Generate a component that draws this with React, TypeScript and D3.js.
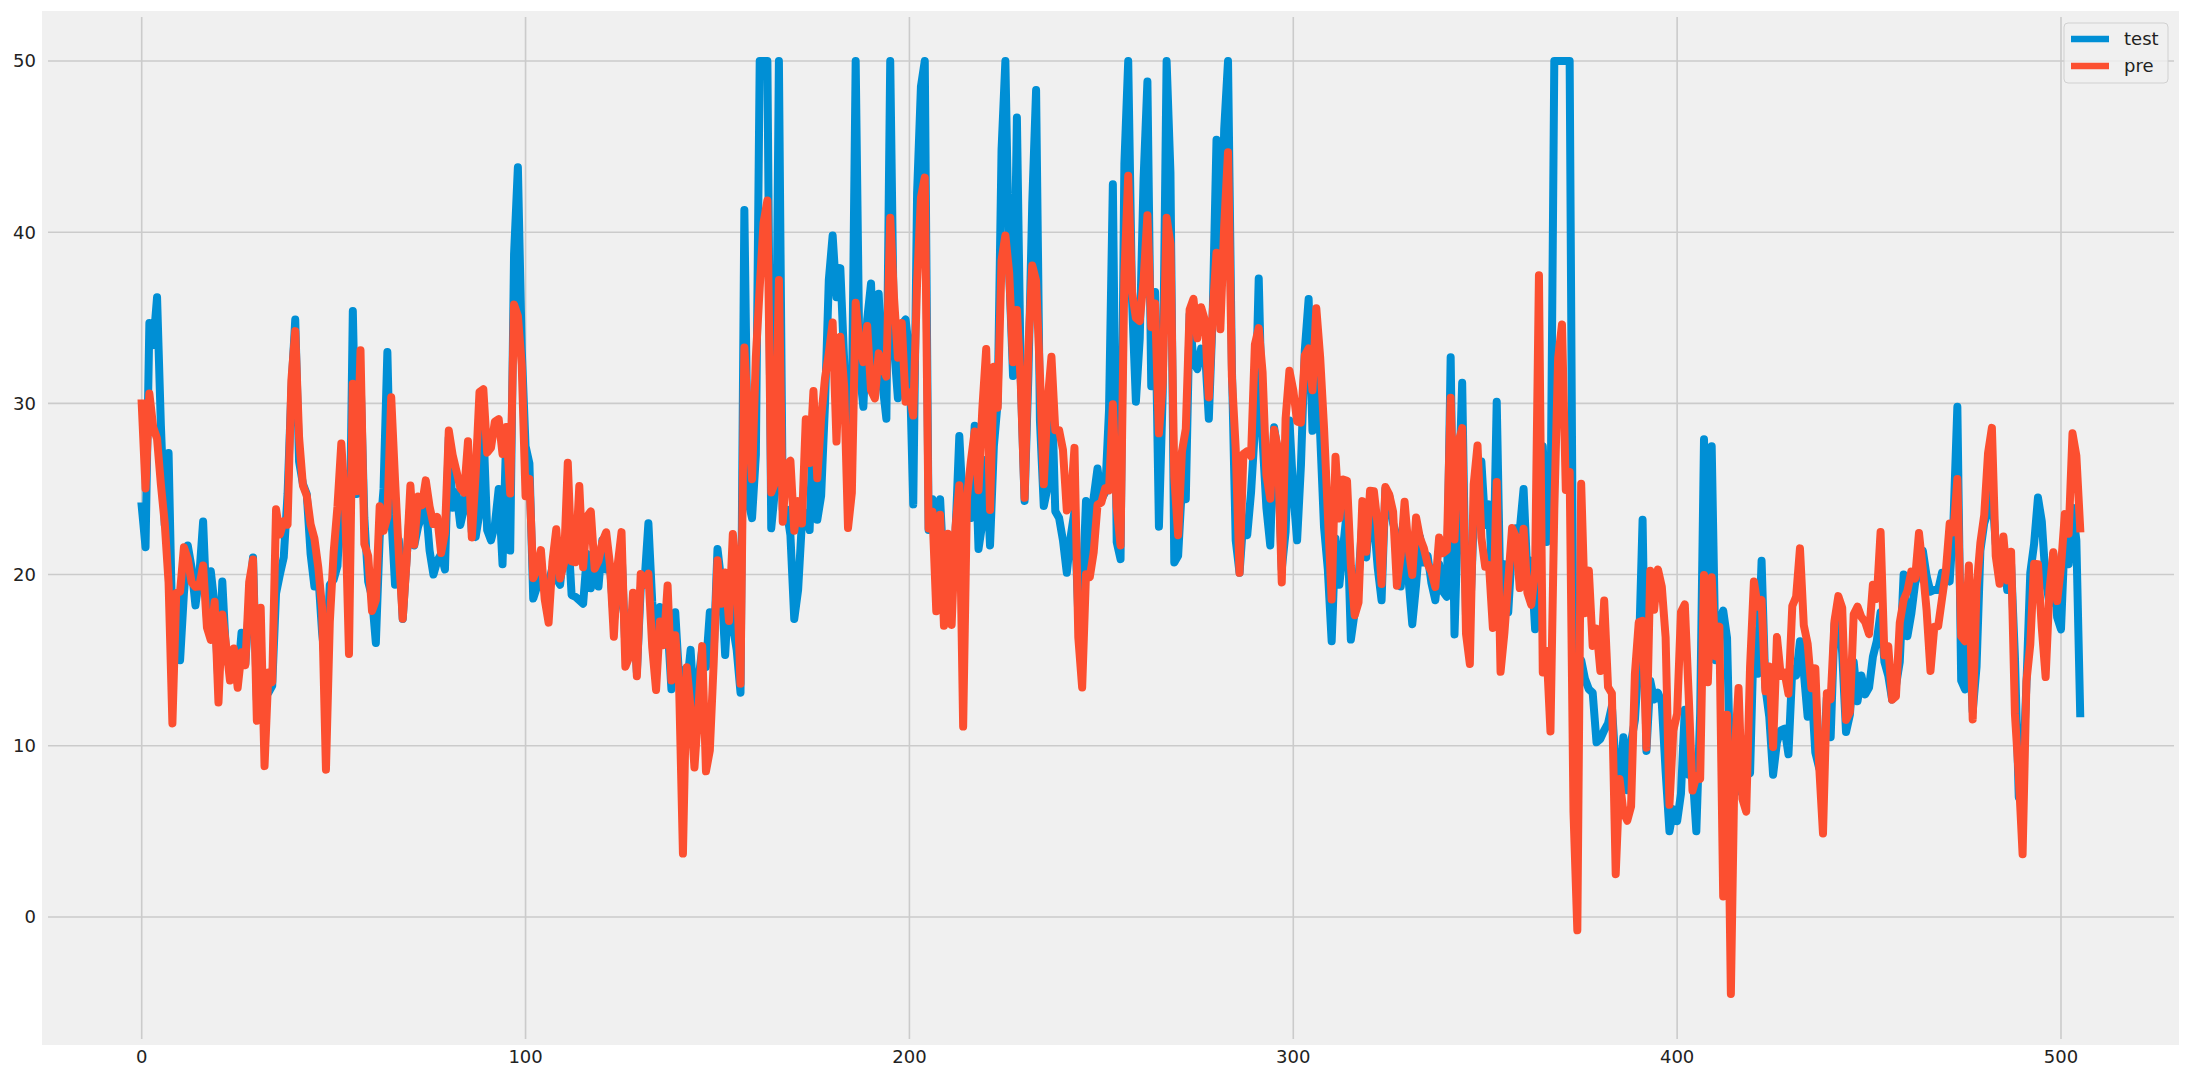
import React from "react";
import * as d3 from "d3";

// Observed house prices (test)
const testValues: number[] = [
  24.0, 21.6, 34.7, 33.4, 36.2, 28.7, 22.9, 27.1, 16.5, 18.9,
  15.0, 18.9, 21.7, 20.4, 18.2, 19.9, 23.1, 17.5, 20.2, 18.2,
  13.6, 19.6, 15.2, 14.5, 15.6, 13.9, 16.6, 14.8, 18.4, 21.0,
  12.7, 14.5, 13.2, 13.1, 13.5, 18.9, 20.0, 21.0, 24.7, 30.8,
  34.9, 26.6, 25.3, 24.7, 21.2, 19.3, 20.0, 16.6, 14.4, 19.4,
  19.7, 20.5, 25.0, 23.4, 18.9, 35.4, 24.7, 31.6, 23.3, 19.6,
  18.7, 16.0, 22.2, 25.0, 33.0, 23.5, 19.4, 22.0, 17.4, 20.9,
  24.2, 21.7, 22.8, 23.4, 24.1, 21.4, 20.0, 20.8, 21.2, 20.3,
  28.0, 23.9, 24.8, 22.9, 23.9, 26.6, 22.5, 22.2, 23.6, 28.7,
  22.6, 22.0, 22.9, 25.0, 20.6, 28.4, 21.4, 38.7, 43.8, 33.2,
  27.5, 26.5, 18.6, 19.3, 20.1, 19.5, 19.5, 20.4, 19.8, 19.4,
  21.7, 22.8, 18.8, 18.7, 18.5, 18.3, 21.2, 19.2, 20.4, 19.3,
  22.0, 20.3, 20.5, 17.3, 18.8, 21.4, 15.7, 16.2, 18.0, 14.3,
  19.2, 19.6, 23.0, 18.4, 15.6, 18.1, 17.4, 17.1, 13.3, 17.8,
  14.0, 14.4, 13.4, 15.6, 11.8, 13.8, 15.6, 14.6, 17.8, 15.4,
  21.5, 19.6, 15.3, 19.4, 17.0, 15.6, 13.1, 41.3, 24.3, 23.3,
  27.0, 50.0, 50.0, 50.0, 22.7, 25.0, 50.0, 23.8, 23.8, 22.3,
  17.4, 19.1, 23.1, 23.6, 22.6, 29.4, 23.2, 24.6, 29.9, 37.2,
  39.8, 36.2, 37.9, 32.5, 26.4, 29.6, 50.0, 32.0, 29.8, 34.9,
  37.0, 30.5, 36.4, 31.1, 29.1, 50.0, 33.3, 30.3, 34.6, 34.9,
  32.9, 24.1, 42.3, 48.5, 50.0, 22.6, 24.4, 22.5, 24.4, 20.0,
  21.7, 19.3, 22.4, 28.1, 23.7, 25.0, 23.3, 28.7, 21.5, 23.0,
  26.7, 21.7, 27.5, 30.1, 44.8, 50.0, 37.6, 31.6, 46.7, 31.5,
  24.3, 31.7, 41.7, 48.3, 29.0, 24.0, 25.1, 31.5, 23.7, 23.3,
  22.0, 20.1, 22.2, 23.7, 17.6, 18.5, 24.3, 20.5, 24.5, 26.2,
  24.4, 24.8, 29.6, 42.8, 21.9, 20.9, 44.0, 50.0, 36.0, 30.1,
  33.8, 43.1, 48.8, 31.0, 36.5, 22.8, 30.7, 50.0, 43.5, 20.7,
  21.1, 25.2, 24.4, 35.2, 32.4, 32.0, 33.2, 33.1, 29.1, 35.1,
  45.4, 35.4, 46.0, 50.0, 32.2, 22.0, 20.1, 23.2, 22.3, 24.8,
  28.5, 37.3, 27.9, 23.9, 21.7, 28.6, 27.1, 20.3, 22.5, 29.0,
  24.8, 22.0, 26.4, 33.1, 36.1, 28.4, 33.4, 28.2, 22.8, 20.3,
  16.1, 22.1, 19.4, 21.6, 23.8, 16.2, 17.8, 19.8, 23.1, 21.0,
  23.8, 23.1, 20.4, 18.5, 25.0, 24.6, 23.0, 22.2, 19.3, 22.6,
  19.8, 17.1, 19.4, 22.2, 20.7, 21.1, 19.5, 18.5, 20.6, 19.0,
  18.7, 32.7, 16.5, 23.9, 31.2, 17.5, 17.2, 23.1, 24.5, 26.6,
  22.9, 24.1, 18.6, 30.1, 18.2, 20.6, 17.8, 21.7, 22.7, 22.6,
  25.0, 19.9, 20.8, 16.8, 21.9, 27.5, 21.9, 23.1, 50.0, 50.0,
  50.0, 50.0, 50.0, 13.8, 13.8, 15.0, 13.9, 13.3, 13.1, 10.2,
  10.4, 10.9, 11.3, 12.3, 8.8, 7.2, 10.5, 7.4, 10.2, 11.5,
  15.1, 23.2, 9.7, 13.8, 12.7, 13.1, 12.5, 8.5, 5.0, 6.3,
  5.6, 7.2, 12.1, 8.3, 8.5, 5.0, 11.9, 27.9, 17.2, 27.5,
  15.0, 17.2, 17.9, 16.3, 7.0, 7.2, 7.5, 10.4, 8.8, 8.4,
  16.7, 14.2, 20.8, 13.4, 11.7, 8.3, 10.2, 10.9, 11.0, 9.5,
  14.5, 14.1, 16.1, 14.3, 11.7, 13.4, 9.6, 8.7, 8.4, 12.8,
  10.5, 17.1, 18.4, 15.4, 10.8, 11.8, 14.9, 12.6, 14.1, 13.0,
  13.4, 15.2, 16.1, 17.8, 14.9, 14.1, 12.7, 13.5, 14.9, 20.0,
  16.4, 17.7, 19.5, 20.2, 21.4, 19.9, 19.0, 19.1, 19.1, 20.1,
  19.9, 19.6, 23.2, 29.8, 13.8, 13.3, 16.7, 12.0, 14.6, 21.4,
  23.0, 23.7, 25.0, 21.8, 20.6, 21.2, 19.1, 20.6, 15.2, 7.0,
  8.1, 13.6, 20.1, 21.8, 24.5, 23.1, 19.7, 18.3, 21.2, 17.5,
  16.8, 22.4, 20.6, 23.9, 22.0, 11.9,
];

// Predicted prices (pre)
const preValues: number[] = [
  30.00, 25.03, 30.57, 28.61, 27.94, 25.26, 23.00, 19.54, 11.30, 18.92,
  19.00, 21.59, 20.91, 19.55, 19.28, 19.30, 20.53, 16.91, 16.18, 18.41,
  12.52, 17.67, 15.83, 13.81, 15.68, 13.39, 15.46, 14.71, 19.55, 20.88,
  11.46, 18.06, 8.81, 14.28, 13.71, 23.81, 22.34, 23.11, 22.92, 31.36,
  34.22, 28.02, 25.20, 24.61, 22.94, 22.10, 20.42, 18.04, 8.60, 17.21,
  21.28, 23.97, 27.66, 24.05, 15.36, 31.15, 24.86, 33.11, 21.78, 21.08,
  17.87, 18.51, 23.99, 22.55, 23.37, 30.36, 25.53, 21.11, 17.42, 20.78,
  25.20, 21.74, 24.56, 24.04, 25.50, 23.97, 22.95, 23.36, 21.26, 22.43,
  28.41, 26.99, 26.04, 25.06, 24.78, 27.79, 22.17, 25.89, 30.67, 30.83,
  27.12, 27.41, 28.94, 29.08, 27.04, 28.62, 24.73, 35.78, 35.11, 32.25,
  24.58, 25.59, 19.79, 20.31, 21.43, 18.54, 17.19, 20.75, 22.65, 19.77,
  20.65, 26.53, 20.77, 20.72, 25.17, 20.43, 23.38, 23.69, 20.34, 20.79,
  21.92, 22.47, 20.56, 16.37, 20.56, 22.48, 14.62, 15.18, 18.94, 14.06,
  20.04, 19.41, 20.06, 15.76, 13.26, 17.26, 15.88, 19.36, 13.81, 16.45,
  13.57, 3.70, 14.59, 12.15, 8.73, 12.04, 15.82, 8.51, 9.72, 14.80,
  20.84, 18.30, 20.12, 17.29, 22.37, 20.10, 13.62, 33.26, 29.03, 25.57,
  32.71, 36.77, 40.56, 41.85, 24.79, 25.38, 37.20, 23.09, 26.40, 26.65,
  22.56, 24.29, 22.98, 29.07, 26.52, 30.72, 25.62, 29.14, 31.44, 32.92,
  34.72, 27.77, 33.89, 30.99, 22.72, 24.77, 35.88, 33.42, 32.41, 34.52,
  30.76, 30.29, 32.92, 32.11, 31.56, 40.85, 36.13, 32.67, 34.70, 30.09,
  30.64, 29.29, 37.07, 42.03, 43.19, 22.69, 23.68, 17.85, 23.49, 17.01,
  22.39, 17.06, 22.74, 25.22, 11.12, 24.51, 26.60, 28.36, 24.92, 29.69,
  33.18, 23.77, 32.14, 29.75, 38.37, 39.81, 37.59, 32.40, 35.46, 31.23,
  24.48, 33.29, 38.05, 37.16, 31.71, 25.27, 30.10, 32.72, 28.43, 28.43,
  27.29, 23.74, 24.12, 27.40, 16.33, 13.40, 20.02, 19.86, 21.29, 24.08,
  24.21, 25.04, 24.92, 29.95, 23.97, 21.70, 37.51, 43.30, 36.48, 34.99,
  34.81, 37.17, 40.99, 34.45, 35.83, 28.25, 31.23, 40.84, 39.32, 25.71,
  22.30, 27.20, 28.51, 35.48, 36.11, 33.80, 35.61, 34.84, 30.35, 35.31,
  38.80, 34.33, 40.34, 44.67, 31.60, 27.36, 20.10, 27.04, 27.21, 26.91,
  33.44, 34.40, 31.83, 25.82, 24.43, 28.46, 27.36, 19.54, 29.11, 31.91,
  30.77, 28.94, 28.88, 32.80, 33.21, 30.77, 35.56, 32.71, 28.64, 23.59,
  18.54, 26.88, 23.28, 25.55, 25.48, 20.54, 17.62, 18.38, 24.29, 21.33,
  24.89, 24.87, 22.87, 19.45, 25.12, 24.67, 23.68, 19.34, 21.17, 24.25,
  21.59, 19.98, 23.34, 22.14, 21.56, 20.62, 20.16, 19.28, 22.17, 21.25,
  21.43, 30.33, 22.05, 27.71, 28.55, 16.55, 14.78, 25.27, 27.54, 22.15,
  20.46, 20.55, 16.88, 25.40, 14.32, 16.59, 19.64, 22.72, 22.20, 19.21,
  22.67, 18.93, 18.23, 20.23, 37.49, 14.28, 15.54, 10.83, 23.80, 32.64,
  34.61, 24.94, 26.00, 6.13, -0.78, 25.31, 17.74, 20.23, 15.83, 16.84,
  14.37, 18.48, 13.43, 13.06, 2.50, 8.06, 6.13, 5.62, 6.45, 14.21,
  17.21, 17.30, 9.89, 20.22, 17.94, 20.30, 19.30, 16.34, 6.55, 10.89,
  11.88, 17.81, 18.26, 12.98, 7.38, 8.21, 8.07, 19.98, 13.71, 19.85,
  15.22, 16.96, 1.20, 11.81, -4.50, 9.58, 13.37, 6.90, 6.15, 14.61,
  19.60, 18.12, 18.52, 13.18, 14.63, 9.92, 16.35, 14.08, 14.26, 13.04,
  18.16, 18.70, 21.53, 17.03, 15.96, 13.36, 14.52, 8.82, 4.87, 13.07,
  12.71, 17.30, 18.74, 18.06, 11.51, 11.97, 17.68, 18.13, 17.52, 17.23,
  16.52, 19.41, 18.58, 22.49, 15.28, 15.82, 12.69, 12.88, 17.19, 18.51,
  19.05, 20.17, 19.77, 22.43, 20.32, 17.89, 14.37, 16.95, 16.98, 18.59,
  20.17, 22.98, 22.46, 25.58, 16.39, 16.11, 20.53, 11.54, 19.20, 21.86,
  23.47, 27.10, 28.57, 21.08, 19.46, 22.22, 19.66, 21.33, 11.86, 8.22,
  3.66, 13.76, 15.93, 20.63, 20.61, 16.89, 14.01, 19.11, 21.30, 18.45,
  20.47, 23.53, 22.38, 28.25, 26.94, 22.70,
];

const xTicks: number[] = [0, 100, 200, 300, 400, 500];
const yTicks: number[] = [0, 10, 20, 30, 40, 50];
const seriesNames: string[] = ["test", "pre"];
const seriesColors: string[] = ["#008fd5", "#fc4f30"];

const W = 2190;
const H = 1080;
const plot = { left: 48, right: 2174, top: 17, bottom: 1039 };

export default function App() {
  const x = d3.scaleLinear().domain([-24.41, 529.44]).range([plot.left, plot.right]);
  const y = d3.scaleLinear().domain([-7.13, 52.57]).range([plot.bottom, plot.top]);

  const line = d3
    .line<number>()
    .x((_, i) => x(i))
    .y((d) => y(d));

  const series = [testValues, preValues];
  const font = "'DejaVu Sans', sans-serif";

  return (
    <svg
      width={W}
      height={H}
      style={{ position: "absolute", left: 0, top: 0, background: "#ffffff" }}
    >
      <rect x={42} y={11} width={2179 - 42} height={1045 - 11} fill="#f0f0f0" />
      <defs>
        <clipPath id="plotclip">
          <rect
            x={plot.left}
            y={plot.top}
            width={plot.right - plot.left}
            height={plot.bottom - plot.top}
          />
        </clipPath>
      </defs>
      {yTicks.map((t) => (
        <line
          key={"gy" + t}
          x1={plot.left}
          x2={plot.right}
          y1={y(t)}
          y2={y(t)}
          stroke="#cbcbcb"
          strokeWidth={1.6}
        />
      ))}
      {xTicks.map((t) => (
        <line
          key={"gx" + t}
          x1={x(t)}
          x2={x(t)}
          y1={plot.top}
          y2={plot.bottom}
          stroke="#cbcbcb"
          strokeWidth={1.6}
        />
      ))}
      {yTicks.map((t) => (
        <text
          key={"ty" + t}
          x={36}
          y={y(t) + 6.5}
          textAnchor="end"
          fontFamily={font}
          fontSize={18}
          fill="#222"
        >
          {t}
        </text>
      ))}
      {xTicks.map((t) => (
        <text
          key={"tx" + t}
          x={x(t)}
          y={1063}
          textAnchor="middle"
          fontFamily={font}
          fontSize={18}
          fill="#222"
        >
          {t}
        </text>
      ))}
      <g clipPath="url(#plotclip)">
        {series.map((s, k) => (
          <path
            key={"s" + k}
            d={line(s) || ""}
            fill="none"
            stroke={seriesColors[k]}
            strokeWidth={8}
            strokeLinejoin="round"
            strokeLinecap="square"
          />
        ))}
      </g>
      <g>
        <rect
          x={2064}
          y={23}
          width={104}
          height={60}
          rx={4}
          fill="#f0f0f0"
          fillOpacity={0.8}
          stroke="#d0d0d0"
          strokeWidth={1}
        />
        {seriesNames.map((name, k) => (
          <g key={"lg" + name}>
            <line
              x1={2071}
              x2={2109}
              y1={39 + k * 27}
              y2={39 + k * 27}
              stroke={seriesColors[k]}
              strokeWidth={6.5}
            />
            <text
              x={2124}
              y={39 + k * 27 + 6}
              fontFamily={font}
              fontSize={18}
              fill="#222"
            >
              {name}
            </text>
          </g>
        ))}
      </g>
    </svg>
  );
}
